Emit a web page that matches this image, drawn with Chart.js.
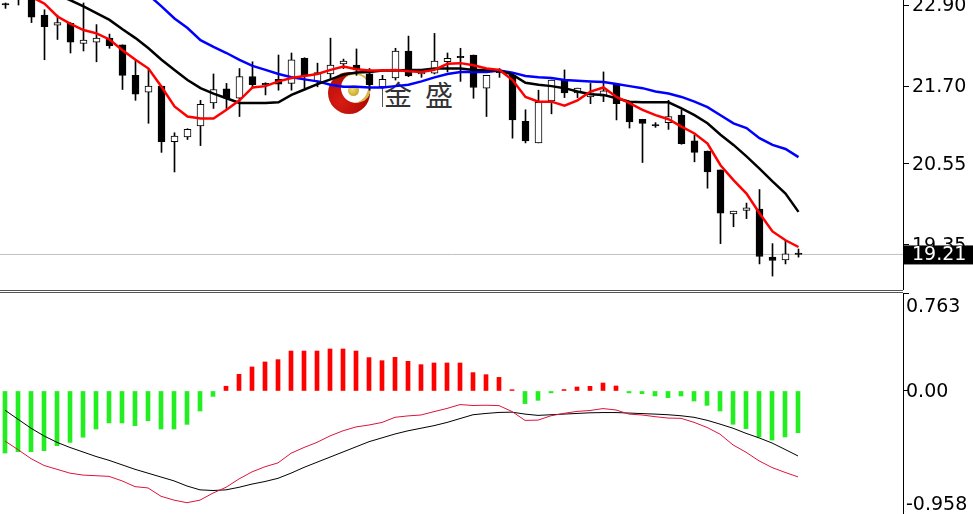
<!DOCTYPE html>
<html>
<head>
<meta charset="utf-8">
<script src="https://cdn.jsdelivr.net/npm/chart.js@4.4.1/dist/chart.umd.min.js"></script>
<style>
  html, body { margin: 0; padding: 0; background: #fff; }
  #wrap { position: relative; width: 973px; height: 514px; overflow: hidden; background: #fff; }
  #priceBox { position: absolute; left: 0; top: 0; width: 973px; height: 290px; z-index: 2; }
  #macdBox { position: absolute; left: 0; top: 293px; width: 973px; height: 221px; z-index: 2; }
  .sep { position: absolute; left: 0; width: 903px; height: 1px; background: #555; z-index: 3; }
  .logo { position: absolute; z-index: 1; }
  .ball { left: 328px; top: 72px; width: 42px; height: 42px; border-radius: 50%;
          background: radial-gradient(circle at 30% 70%, #d81c14 0%, #b80d08 55%, #820505 100%); }
  .cut { left: 341px; top: 73px; width: 30px; height: 30px; border-radius: 50%; background: #fff;
         border-right: 3px solid #d9b84a; border-top: 2px solid #d9b84a; box-sizing: border-box;
         transform: rotate(20deg); }
  .dot { left: 348px; top: 85px; width: 11px; height: 11px; border-radius: 50%;
         background: radial-gradient(circle at 40% 40%, #f1da6a, #b8941c); }
  .bar { left: 382px; top: 83px; width: 1px; height: 24px; background: #555; }
  .wm { font-family: "Noto Sans CJK SC", sans-serif; font-size: 28px; line-height: 28px; color: #333; }
</style>
</head>
<body>
<div id="wrap">
  <div class="logo ball"></div>
  <div class="logo cut"></div>
  <div class="logo dot"></div>
  <div class="logo bar"></div>
  <div class="logo wm" style="left:384px; top:80px;">金</div>
  <div class="logo wm" style="left:425px; top:80px;">盛</div>
  <div id="priceBox"><canvas id="priceChart"></canvas></div>
  <div class="sep" style="top:290px"></div>
  <div class="sep" style="top:292px"></div>
  <div id="macdBox"><canvas id="macdChart"></canvas></div>
</div>
<script>
// candles, oldest first
const openP = [22.92, 23.10, 23.08, 22.75, 22.60, 22.63, 22.33, 22.35, 22.41, 22.31,
  21.86, 21.61, 21.70, 20.88, 20.95, 21.11, 21.45, 21.66, 21.52, 21.84,
  21.74, 21.80, 21.74, 22.11, 21.77, 21.88, 22.03, 22.01, 21.88, 21.69,
  21.82, 22.22, 21.88, 21.89, 22.06, 22.14, 22.16, 21.67, 21.92, 21.86,
  21.18, 20.86, 21.48, 21.79, 21.60, 21.54, 21.55, 21.73, 21.46, 21.21,
  21.13, 21.16, 21.27, 20.89, 20.74, 20.46, 19.81, 19.86, 19.88, 19.17,
  19.13, 19.23];
const highP = [22.93, 23.15, 23.12, 22.83, 22.75, 22.64, 22.93, 22.61, 22.47, 22.31,
  22.09, 21.96, 21.70, 21.01, 21.07, 21.49, 21.88, 21.74, 21.96, 22.06,
  21.75, 22.16, 22.19, 22.12, 22.04, 22.41, 22.10, 22.25, 21.96, 21.86,
  22.26, 22.44, 21.93, 22.48, 22.19, 22.26, 22.16, 21.86, 21.96, 21.86,
  21.35, 21.64, 21.79, 21.94, 21.67, 21.74, 21.91, 21.73, 21.46, 21.21,
  21.16, 21.49, 21.35, 20.98, 20.74, 20.46, 19.85, 19.97, 20.17, 19.37,
  19.41, 19.29];
const lowP = [22.85, 22.90, 22.64, 22.09, 22.39, 22.19, 22.22, 22.06, 22.26, 21.65,
  21.49, 21.15, 20.72, 20.43, 20.91, 20.82, 21.37, 21.35, 21.25, 21.67,
  21.57, 21.64, 21.64, 21.67, 21.69, 21.82, 21.96, 21.86, 21.64, 21.67,
  21.79, 21.84, 21.83, 21.88, 21.91, 21.77, 21.52, 21.25, 21.83, 20.93,
  20.86, 20.86, 21.29, 21.53, 21.53, 21.44, 21.47, 21.20, 21.08, 20.57,
  21.09, 21.06, 20.84, 20.58, 20.19, 19.37, 19.62, 19.74, 19.07, 18.89,
  19.07, 19.17];
const closeP = [22.90, 23.02, 22.72, 22.58, 22.64, 22.35, 22.38, 22.41, 22.30, 21.86,
  21.58, 21.70, 20.88, 20.96, 21.06, 21.43, 21.65, 21.52, 21.84, 21.72,
  21.72, 21.73, 22.09, 21.85, 21.90, 22.01, 22.07, 21.94, 21.72, 21.80,
  22.22, 21.85, 21.91, 22.07, 22.11, 22.12, 21.68, 21.86, 21.90, 21.20,
  20.89, 21.46, 21.79, 21.60, 21.67, 21.60, 21.63, 21.44, 21.17, 21.15,
  21.11, 21.25, 20.85, 20.72, 20.43, 19.82, 19.85, 19.90, 19.18, 19.12,
  19.22, 19.21];

// moving averages
const maRed = [23.12, 23.08, 23.02, 22.92, 22.73, 22.62, 22.53, 22.48, 22.39, 22.23,
  22.09, 21.96, 21.69, 21.40, 21.25, 21.22, 21.22, 21.35, 21.49, 21.68,
  21.70, 21.77, 21.82, 21.85, 21.88, 21.94, 21.99, 21.95, 21.93, 21.93,
  21.94, 21.92, 21.91, 21.94, 22.03, 22.04, 22.01, 21.96, 21.94, 21.79,
  21.54, 21.47, 21.47, 21.41, 21.49, 21.62, 21.68, 21.54, 21.45, 21.35,
  21.27, 21.21, 21.10, 21.00, 20.85, 20.53, 20.31, 20.11, 19.82, 19.55,
  19.42, 19.32];
const maBlack = [23.30, 23.24, 23.18, 23.12, 23.05, 22.97, 22.88, 22.78, 22.68, 22.54,
  22.41, 22.26, 22.09, 21.94, 21.79, 21.67, 21.59, 21.52, 21.45, 21.45,
  21.45, 21.46, 21.57, 21.65, 21.73, 21.80, 21.87, 21.90, 21.91, 21.93,
  21.93, 21.94, 21.94, 21.96, 21.96, 21.96, 21.94, 21.94, 21.93, 21.87,
  21.75, 21.72, 21.70, 21.67, 21.62, 21.58, 21.57, 21.52, 21.47, 21.46,
  21.46, 21.46, 21.37, 21.27, 21.15, 20.98, 20.83, 20.66, 20.48, 20.29,
  20.11, 19.84];
const maBlue = [null, null, null, null, null, null, null, null, null, null,
  23.15, 23.05, 22.88, 22.70, 22.56, 22.38, 22.28, 22.19, 22.09, 22.00,
  21.94, 21.88, 21.83, 21.80, 21.77, 21.72, 21.69, 21.69, 21.68, 21.68,
  21.70, 21.72, 21.77, 21.83, 21.88, 21.91, 21.91, 21.91, 21.93, 21.90,
  21.85, 21.83, 21.82, 21.79, 21.78, 21.77, 21.76, 21.73, 21.70, 21.67,
  21.62, 21.59, 21.54, 21.47, 21.39, 21.27, 21.15, 21.08, 20.93, 20.83,
  20.77, 20.65];

// MACD window
const macdHist = [-0.483, -0.473, -0.473, -0.465, -0.426, -0.40, -0.36, -0.296, -0.249, -0.249,
  -0.27, -0.231, -0.296, -0.296, -0.26, -0.156, -0.042, 0.037, 0.13, 0.187,
  0.226, 0.244, 0.311, 0.311, 0.311, 0.327, 0.327, 0.311, 0.26, 0.236,
  0.262, 0.231, 0.205, 0.218, 0.218, 0.218, 0.143, 0.127, 0.106, 0.01,
  -0.098, -0.073, -0.015, 0.011, 0.031, 0.036, 0.062, 0.039, -0.015, -0.021,
  -0.039, -0.052, -0.039, -0.078, -0.112, -0.156, -0.259, -0.293, -0.358, -0.382,
  -0.358, -0.325];
const difLine = [-0.39, -0.457, -0.527, -0.58, -0.61, -0.64, -0.655, -0.66, -0.665, -0.70,
  -0.745, -0.755, -0.82, -0.85, -0.87, -0.85, -0.795, -0.75, -0.685, -0.63,
  -0.59, -0.56, -0.485, -0.44, -0.40, -0.35, -0.31, -0.28, -0.265, -0.245,
  -0.205, -0.194, -0.187, -0.161, -0.136, -0.106, -0.113, -0.111, -0.114, -0.16,
  -0.229, -0.227, -0.193, -0.174, -0.159, -0.152, -0.137, -0.148, -0.18, -0.187,
  -0.20, -0.211, -0.213, -0.244, -0.284, -0.336, -0.42, -0.477, -0.544, -0.596,
  -0.634, -0.669];
const deaLine = [-0.15, -0.22, -0.29, -0.35, -0.40, -0.44, -0.475, -0.51, -0.54, -0.575,
  -0.61, -0.64, -0.67, -0.70, -0.74, -0.77, -0.775, -0.77, -0.75, -0.725,
  -0.705, -0.68, -0.64, -0.595, -0.555, -0.515, -0.475, -0.435, -0.395, -0.365,
  -0.335, -0.31, -0.29, -0.27, -0.245, -0.215, -0.185, -0.175, -0.167, -0.165,
  -0.18, -0.19, -0.185, -0.18, -0.175, -0.17, -0.168, -0.168, -0.172, -0.176,
  -0.18, -0.185, -0.193, -0.205, -0.228, -0.258, -0.29, -0.33, -0.365, -0.405,
  -0.455, -0.506];

const priceTicks = [22.90, 21.70, 20.55, 19.35];
const macdTicks = [0.763, 0.00, -0.958];
const macdTickLabels = ["0.763", "0.00", "-0.958"];
const lastPrice = 19.21;

const axisFont = '19px "DejaVu Sans"';
const SLOT = 13;        // px per bar
const AREA_W = 903;     // plot width

function xRange(offsetPx) {
  const min = -offsetPx / SLOT;
  return { min: min, max: min + AREA_W / SLOT };
}

const pts = (arr) => arr.map((v, i) => ({ x: i, y: v }));

const rightAxis = (ticks, min, max) => ({
  position: "right",
  min: min,
  max: max,
  afterFit: (s) => { s.width = 973 - AREA_W; },
  afterBuildTicks: (s) => { s.ticks = ticks.map((v) => ({ value: v })); },
  ticks: { display: false },
  grid: { display: true, drawOnChartArea: false, drawTicks: true, tickLength: 6, color: "#000" },
  border: { display: true, color: "#000", width: 1 },
});

const priceLabels = {
  id: "priceLabels",
  afterDraw(chart) {
    const { ctx, chartArea, scales } = chart;
    const y = scales.y;
    ctx.save();
    ctx.font = axisFont;
    ctx.textBaseline = "middle";
    ctx.fillStyle = "#000";
    priceTicks.forEach((v) => {
      ctx.fillText(v.toFixed(2), chartArea.right + 9, y.getPixelForValue(v) + 1);
    });
    const py = y.getPixelForValue(lastPrice);
    ctx.fillStyle = "#000";
    ctx.fillRect(chartArea.right, py - 9, 70, 19);
    ctx.fillStyle = "#fff";
    ctx.fillText(lastPrice.toFixed(2), chartArea.right + 9, py + 1);
    ctx.restore();
  },
};

const macdLabels = {
  id: "macdLabels",
  afterDraw(chart) {
    const { ctx, chartArea, scales } = chart;
    const y = scales.y;
    ctx.save();
    ctx.font = axisFont;
    ctx.textBaseline = "middle";
    ctx.fillStyle = "#000";
    macdTicks.forEach((v, i) => {
      let py = y.getPixelForValue(v) + 1;
      py = Math.max(chartArea.top + 14, Math.min(chartArea.bottom - 9, py));
      ctx.fillText(macdTickLabels[i], chartArea.right + 3, py);
    });
    ctx.restore();
  },
};

// price window
const px = xRange(5.5);
new Chart(document.getElementById("priceChart"), {
  type: "bar",
  data: {
    datasets: [
      { type: "line", data: pts(maRed), borderColor: "#ff0000", borderWidth: 2.5, pointRadius: 0, tension: 0, order: 0 },
      { type: "line", data: pts(maBlack), borderColor: "#000000", borderWidth: 2.5, pointRadius: 0, tension: 0, order: 1 },
      { type: "line", data: pts(maBlue), borderColor: "#0000ff", borderWidth: 2.5, pointRadius: 0, tension: 0, order: 2 },
      {
        data: openP.map((o, i) => ({ x: i, y: [o, closeP[i]] })),
        backgroundColor: (c) => (closeP[c.dataIndex] > openP[c.dataIndex] ? "#ffffff" : "#000000"),
        borderColor: "#000",
        borderWidth: 1,
        borderSkipped: false,
        barThickness: 7,
        grouped: false,
        order: 3,
      },
      {
        data: highP.map((h, i) => ({ x: i, y: [lowP[i], h] })),
        backgroundColor: "#000",
        barThickness: 1,
        grouped: false,
        order: 4,
      },
      {
        type: "line",
        data: [{ x: px.min, y: lastPrice }, { x: px.max, y: lastPrice }],
        borderColor: "#c0c0c0",
        borderWidth: 1,
        pointRadius: 0,
        order: 5,
      },
    ],
  },
  options: {
    responsive: true,
    maintainAspectRatio: false,
    animation: false,
    events: [],
    layout: { padding: 0 },
    plugins: { legend: { display: false }, tooltip: { enabled: false } },
    scales: {
      x: { type: "linear", min: px.min, max: px.max, offset: false, display: false },
      y: rightAxis(priceTicks, 18.684, 22.974),
    },
  },
  plugins: [priceLabels],
});

// MACD window
const mx = xRange(5);
new Chart(document.getElementById("macdChart"), {
  type: "bar",
  data: {
    datasets: [
      { type: "line", data: pts(difLine), borderColor: "#dc143c", borderWidth: 1, pointRadius: 0, tension: 0, order: 0 },
      { type: "line", data: pts(deaLine), borderColor: "#000000", borderWidth: 1, pointRadius: 0, tension: 0, order: 1 },
      {
        data: pts(macdHist),
        backgroundColor: (c) => (macdHist[c.dataIndex] >= 0 ? "#ff0000" : "#22ee22"),
        barThickness: 4,
        grouped: false,
        order: 2,
      },
    ],
  },
  options: {
    responsive: true,
    maintainAspectRatio: false,
    animation: false,
    events: [],
    layout: { padding: 0 },
    plugins: { legend: { display: false }, tooltip: { enabled: false } },
    scales: {
      x: { type: "linear", min: mx.min, max: mx.max, offset: false, display: false },
      y: rightAxis(macdTicks, -0.958, 0.763),
    },
  },
  plugins: [macdLabels],
});
</script>
</body>
</html>
